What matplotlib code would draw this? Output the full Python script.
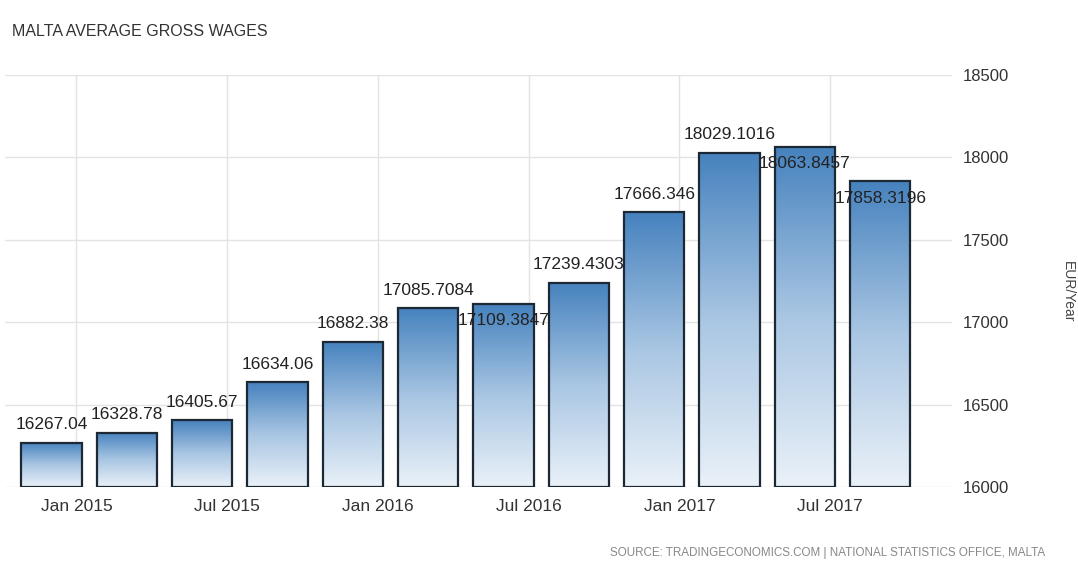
import numpy as np
import matplotlib
matplotlib.use("Agg")
import matplotlib.pyplot as plt
from matplotlib.colors import LinearSegmentedColormap

# quarterly average gross wages (EUR/Year)
values = [16267.04, 16328.78, 16405.67, 16634.06, 16882.38, 17085.7084,
          17109.3847, 17239.4303, 17666.346, 18029.1016, 18063.8457, 17858.3196]
value_labels = ["16267.04", "16328.78", "16405.67", "16634.06", "16882.38", "17085.7084",
                "17109.3847", "17239.4303", "17666.346", "18029.1016", "18063.8457", "17858.3196"]
tick_labels = ["Jan 2015", "Jul 2015", "Jan 2016", "Jul 2016", "Jan 2017", "Jul 2017"]
y_ticks = [16000, 16500, 17000, 17500, 18000, 18500]

# label placement (points): above the bar, or dropped onto it where the original overlaps
label_dy = [13, 13, 13, 13, 13, 13, -12, 13, 13, 13, -12, -13]

plt.rcParams['font.family'] = ['Liberation Sans', 'DejaVu Sans']

fig = plt.figure(figsize=(10.78, 5.74), dpi=100)
ax = fig.add_axes([0.005, 0.1516, 0.878, 0.7177])

x = np.arange(len(values))
base = y_ticks[0]
heights = [v - base for v in values]

cmap = LinearSegmentedColormap.from_list("wage", ["#eaf1f8", "#a9c6e3", "#4682be"])
grad = np.linspace(0, 1, 256).reshape(-1, 1)

bars = ax.bar(x, heights, bottom=base, width=0.8, facecolor="none",
              edgecolor="#1c2833", linewidth=1.6, zorder=3)
for b in bars:
    x0, w = b.get_x(), b.get_width()
    y0, h = b.get_y(), b.get_height()
    ax.imshow(grad, cmap=cmap, aspect="auto", origin="lower",
              extent=(x0, x0 + w, y0, y0 + h), zorder=2, interpolation="bicubic")

for xi, v, lab, dy in zip(x, values, value_labels, label_dy):
    ax.annotate(lab, (xi, v), xytext=(0, dy), textcoords="offset points",
                ha="center", va="center", fontsize=12.5, color="#222222", zorder=4)

ax.set_xlim(-0.61, 11.95)
ax.set_ylim(16000, 18500)

tick_pos = [i + 1 / 3 for i in range(0, len(values), 2)]
ax.set_xticks(tick_pos)
ax.set_xticklabels(tick_labels)
ax.yaxis.tick_right()
ax.set_yticks(y_ticks)
ax.tick_params(axis="both", length=0, labelcolor="#333333")
ax.tick_params(axis="x", labelsize=12.5, pad=9)
ax.tick_params(axis="y", labelsize=12, pad=8)

ax.grid(True, color="#e3e3e3", linewidth=1)
ax.set_axisbelow(True)
for s in ax.spines.values():
    s.set_visible(False)

fig.text(1068 / 1078, 1 - 292 / 574, "EUR/Year", rotation=-90, ha="center", va="center",
         fontsize=10, color="#444444")
fig.text(12 / 1078, 1 - 32 / 574, "MALTA AVERAGE GROSS WAGES", ha="left", va="center",
         fontsize=11.5, color="#333333")
fig.text(1045 / 1078, 1 - 553 / 574,
         "SOURCE: TRADINGECONOMICS.COM | NATIONAL STATISTICS OFFICE, MALTA",
         ha="right", va="center", fontsize=8.4, color="#888888")

fig.savefig("out.png", dpi=100)
